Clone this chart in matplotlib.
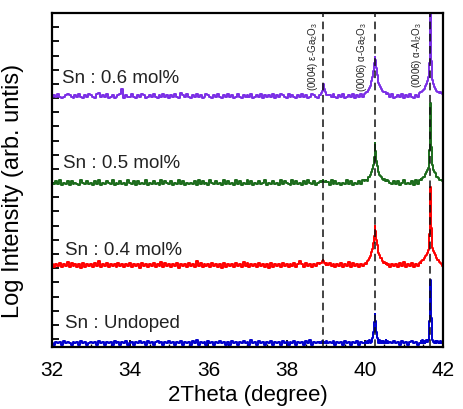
import numpy as np
import matplotlib
matplotlib.use('Agg')
import matplotlib.pyplot as plt
from matplotlib.ticker import MultipleLocator, NullFormatter

plt.rcParams['font.family'] = ['Liberation Sans', 'DejaVu Sans']
plt.rcParams['mathtext.fontset'] = 'custom'
plt.rcParams['mathtext.rm'] = 'Liberation Sans'
plt.rcParams['mathtext.it'] = 'Liberation Sans:italic'

# ---------------- data ----------------
two_theta = np.round(np.linspace(32, 42, 201), 2)          # coarse scan grid
win_a_x = np.round(np.linspace(40.0, 40.6, 31), 2)         # alpha-Ga2O3 (0006) window
win_b_x = np.round(np.linspace(41.4, 42.0, 31), 2)         # alpha-Al2O3 (0006) window
win_c_x = np.round(np.linspace(38.85, 39.05, 11), 2)       # eps-Ga2O3 (0004) window

samples = ['Sn : Undoped', 'Sn : 0.4 mol%', 'Sn : 0.5 mol%', 'Sn : 0.6 mol%']
colors = ['#0000CC', '#FF0000', '#1B6B1B', '#7B2FE6']
baselines = [0.6, 6.0, 11.85, 18.0]
label_x = [32.33, 32.33, 32.28, 32.26]
label_y = [1.85, 7.0, 13.13, 19.13]

noise_step = 0.09
noise = [
    "1021203121 0212031201 2120312021 2031202130 1202131203 1202312021 3120213021 2031402120 3120213120 2031202131 "
    "2041203120 2130212031 2021302120 3140212031 2021302120 3120213021 2031202130 1202131203 1202312021 3120213021 1",
    "3132413251 4231304132 3142613241 3231423132 4132304231 3241325142 3132403231 4231624132 3142313041 3231423152 "
    "4132314231 3041323142 3132413631 4231324102 3142313241 3251423132 4132304231 3241323142 5132413231 4231324132 3",
    "2131402130 3121042131 2031402132 1402131204 2130312140 2131204132 1302141302 1213041312 0421312041 3120413021 "
    "4130213124 0213120413 2104131203 1421302143 1204131202 1413021314 2031204132 1402131302 4121304132 1203141302 2",
    "1213101232 1021310213 2103412130 1201237021 1310213201 2131021312 0213104213 1021312013 2102131021 3120131021 "
    "2130121302 1213021321 0312102131 2013210312 1021310213 0121302131 2031210213 1021301213 0213102131 2013121021 1",
]

peak_a = [
    [0.1, 0.2, 0.1, 0.25, 0.1, 0.2, 0.3, 0.15, 0.25, 0.2, 0.45, 0.9, 1.6, 2.2, 1.7, 0.9,
     0.45, 0.25, 0.15, 0.3, 0.1, 0.25, 0.15, 0.1, 0.25, 0.1, 0.2, 0.3, 0.1, 0.25, 0.15],
    [0.3, 0.4, 0.3, 0.5, 0.55, 0.6, 0.75, 0.85, 0.95, 1.15, 1.35, 1.75, 2.3, 3.0, 2.6, 2.0,
     1.6, 1.3, 1.1, 0.9, 0.75, 0.7, 0.55, 0.5, 0.4, 0.45, 0.35, 0.3, 0.35, 0.2, 0.3],
    [0.3, 0.35, 0.4, 0.3, 0.5, 0.55, 0.6, 0.7, 0.8, 0.95, 1.15, 1.45, 2.0, 3.0, 2.4, 1.7,
     1.35, 1.1, 0.9, 0.75, 0.65, 0.6, 0.5, 0.45, 0.4, 0.45, 0.3, 0.4, 0.3, 0.35, 0.3],
    [0.3, 0.35, 0.4, 0.4, 0.55, 0.6, 0.7, 0.85, 1.0, 1.2, 1.5, 1.9, 2.5, 2.9, 2.7, 2.1,
     1.6, 1.3, 1.05, 0.9, 0.75, 0.65, 0.55, 0.5, 0.45, 0.4, 0.4, 0.35, 0.3, 0.35, 0.3],
]
peak_b = [
    [0.15, 0.1, 0.25, 0.15, 0.3, 0.1, 0.25, 0.15, 0.2, 0.3, 0.2, 0.35, 0.6, 1.7, 4.6, 1.9,
     0.6, 0.3, 0.2, 0.15, 0.25, 0.1, 0.2, 0.25, 0.1, 0.2, 0.1, 0.25, 0.1, 0.2, 0.1],
    [0.4, 0.45, 0.4, 0.5, 0.55, 0.6, 0.7, 0.75, 0.85, 0.95, 1.05, 1.25, 1.6, 2.4, 5.7, 2.8,
     1.8, 1.4, 1.2, 1.05, 0.9, 0.8, 0.7, 0.6, 0.55, 0.5, 0.45, 0.4, 0.3, 0.15, 0.0],
    [0.35, 0.4, 0.45, 0.4, 0.5, 0.55, 0.6, 0.7, 0.8, 0.9, 1.05, 1.25, 1.6, 2.5, 5.8, 2.7,
     1.8, 1.4, 1.1, 0.95, 0.85, 0.75, 0.6, 0.55, 0.5, 0.45, 0.4, 0.4, 0.35, 0.3, 0.25],
    [0.35, 0.4, 0.4, 0.45, 0.5, 0.55, 0.65, 0.75, 0.85, 1.0, 1.2, 1.5, 1.9, 2.5, 6.5, 2.6,
     1.8, 1.3, 1.0, 0.8, 0.65, 0.6, 0.5, 0.45, 0.4, 0.4, 0.35, 0.4, 0.35, 0.3, 0.35],
]
peak_c = [
    [0.1, 0.2, 0.1, 0.25, 0.15, 0.2, 0.1, 0.2, 0.1, 0.25, 0.1],
    [0.3, 0.35, 0.4, 0.5, 0.6, 0.5, 0.4, 0.3, 0.25, 0.35, 0.25],
    [0.2, 0.3, 0.2, 0.3, 0.35, 0.3, 0.25, 0.2, 0.3, 0.2, 0.25],
    [0.2, 0.25, 0.35, 0.5, 0.75, 1.0, 0.65, 0.4, 0.3, 0.25, 0.2],
]

ref_lines = [38.93, 40.26, 41.68]
ref_labels = [r'(0004) ε-Ga$_2$O$_3$', r'(0006) α-Ga$_2$O$_3$', r'(0006) α-Al$_2$O$_3$']
ref_label_x = [38.68, 39.93, 41.33]

xticks = [32, 34, 36, 38, 40, 42]

# ---------------- plot ----------------
fig = plt.figure(figsize=(4.63, 4.10), dpi=100)
ax = fig.add_axes([0.1123, 0.1512, 0.8445, 0.8147])

eps = 1e-9
mask = ~(((two_theta >= 40.0 - eps) & (two_theta <= 40.6 + eps)) |
         ((two_theta >= 41.4 - eps) & (two_theta <= 42.0 + eps)) |
         ((two_theta >= 38.85 - eps) & (two_theta <= 39.05 + eps)))

for i in range(4):
    digits = np.array([int(c) for c in noise[i].replace(' ', '')])
    nvals = digits * noise_step
    xs = np.concatenate([two_theta[mask], win_a_x, win_b_x, win_c_x])
    ys = np.concatenate([nvals[mask], peak_a[i], peak_b[i], peak_c[i]]) + baselines[i]
    order = np.argsort(xs, kind='stable')
    ax.plot(xs[order], ys[order], color=colors[i], lw=1.4, zorder=2,
            drawstyle='steps-mid')
    ax.text(label_x[i], label_y[i], samples[i], fontsize=13.5, color='#222222',
            ha='left', va='baseline', zorder=4)

for xv, lab, lx in zip(ref_lines, ref_labels, ref_label_x):
    ax.axvline(xv, color='#111111', lw=1.1, ls=(0, (5, 3)), zorder=3)
    ax.text(lx, 23.45, lab, rotation=90, fontsize=7, color='#222222',
            ha='center', va='top', zorder=4)

ax.set_xlim(32, 42)
ax.set_ylim(0.44, 24.0)
ax.set_xticks(xticks)
ax.set_xticklabels([str(t) for t in xticks])
ax.xaxis.set_minor_locator(MultipleLocator(0.5))
ax.yaxis.set_major_locator(MultipleLocator(1))
ax.yaxis.set_major_formatter(NullFormatter())

ax.tick_params(axis='x', which='major', direction='in', length=5, width=1.3,
               labelsize=15, pad=9, top=False)
ax.tick_params(axis='x', which='minor', direction='in', length=2.5, width=1.0, top=False)
ax.tick_params(axis='y', which='major', direction='in', length=5, width=1.3,
               right=False, left=True)
for sp in ax.spines.values():
    sp.set_linewidth(1.6)

ax.set_xlabel('2Theta (degree)', fontsize=16, labelpad=4)
ax.set_ylabel('Log Intensity (arb. untis)', fontsize=17)
ax.yaxis.set_label_coords(-0.072, 0.47)

fig.savefig('out.png', dpi=100)
